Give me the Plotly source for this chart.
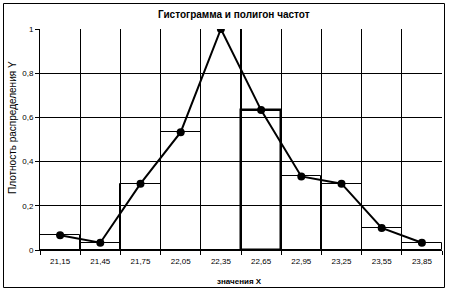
import plotly.graph_objects as go

categories = ["21,15", "21,45", "21,75", "22,05", "22,35", "22,65", "22,95", "23,25", "23,55", "23,85"]
density = [0.067, 0.033, 0.3, 0.533, 1.0, 0.633, 0.333, 0.3, 0.1, 0.033]
bar_line_widths = [1, 1, 1, 1, 1, 2.5, 1, 1, 1, 1]

title_text = "Гистограмма и полигон частот"
x_title = "значения X"
y_title = "Плотность распределения Y"
y_ticks = [0, 0.2, 0.4, 0.6, 0.8, 1]

font_family = "Liberation Sans, Arial, sans-serif"

fig = go.Figure()
fig.add_trace(go.Bar(
    x=categories, y=density, width=1,
    marker=dict(color="rgba(0,0,0,0)", line=dict(color="black", width=bar_line_widths)),
    showlegend=False, hoverinfo="skip",
))
fig.add_trace(go.Scatter(
    x=categories, y=density, mode="lines+markers",
    line=dict(color="black", width=2),
    marker=dict(color="black", size=8, symbol="circle"),
    showlegend=False,
))

L, R, T, B = 40, 7, 29, 42
W, H = 449, 292
pw, ph = W - L - R, H - T - B

def px_to_paper_x(px):
    return (px - L) / pw

def px_to_paper_y(py):
    return (H - B - py) / ph

fig.update_layout(
    width=W, height=H,
    margin=dict(l=L, r=R, t=T, b=B),
    paper_bgcolor="white", plot_bgcolor="white",
    separators=", ",
    bargap=0,
    font=dict(family=font_family, color="black", size=8),
    xaxis=dict(
        type="category", tickson="boundaries",
        showgrid=True, gridcolor="black", gridwidth=1,
        showline=True, linecolor="black", linewidth=1,
        ticks="outside", ticklen=4, tickcolor="black",
        tickfont=dict(size=8), ticklabelstandoff=3,
        range=[-0.5, 9.5],
    ),
    yaxis=dict(
        range=[0, 1], tickvals=y_ticks,
        showgrid=True, gridcolor="black", gridwidth=1,
        zeroline=False,
        showline=True, linecolor="black", linewidth=1,
        ticks="outside", ticklen=4, tickcolor="black",
        tickfont=dict(size=8),
    ),
    annotations=[
        dict(text="<b>" + title_text + "</b>", xref="paper", yref="paper",
             x=px_to_paper_x(234), y=px_to_paper_y(14), xanchor="center", yanchor="middle",
             showarrow=False, font=dict(size=10, color="black")),
        dict(text="<b>" + x_title + "</b>", xref="paper", yref="paper",
             x=px_to_paper_x(239), y=px_to_paper_y(281), xanchor="center", yanchor="middle",
             showarrow=False, font=dict(size=8, color="black")),
        dict(text=y_title, xref="paper", yref="paper", textangle=-90,
             x=px_to_paper_x(13), y=px_to_paper_y(128), xanchor="center", yanchor="middle",
             showarrow=False, font=dict(size=10, color="black")),
    ],
    shapes=[dict(type="rect", xref="paper", yref="paper",
                 x0=px_to_paper_x(3.5), x1=px_to_paper_x(444.5),
                 y0=px_to_paper_y(287.5), y1=px_to_paper_y(3.5),
                 line=dict(color="black", width=1), layer="above")],
)

fig.write_html("out.html")
